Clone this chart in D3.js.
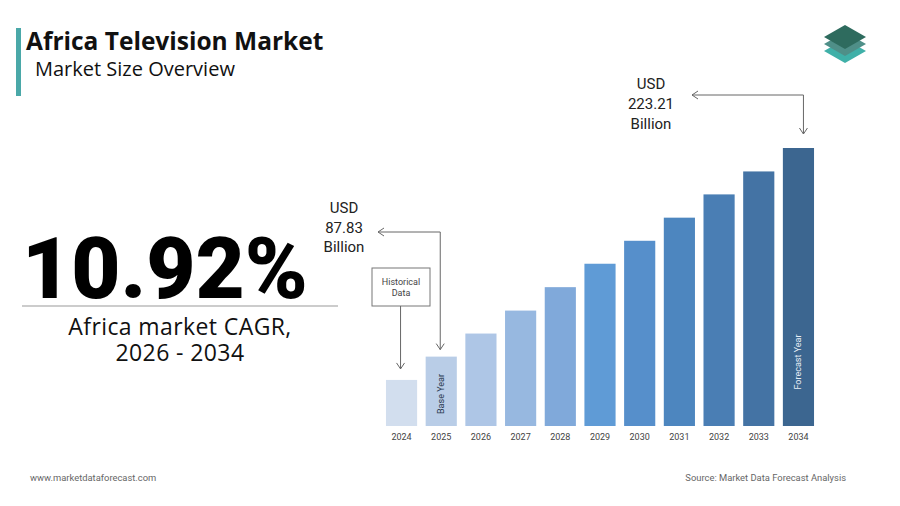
<!DOCTYPE html>
<html>
<head>
    <title>Africa Television Market</title>
    <script src="https://cdnjs.cloudflare.com/ajax/libs/d3/7.8.5/d3.min.js"></script>
    <style>
        body {
            margin: 0;
            background-color: #ffffff;
            font-family: Roboto, Arial, sans-serif;
        }
        .year {
            font-size: 9px;
            fill: #444;
        }
        .note {
            font-size: 15px;
            fill: #222;
        }
        .arrow {
            fill: none;
            stroke: #666;
            stroke-width: 1;
        }
    </style>
</head>
<body>
    <div id="chart"></div>

    <script>
        // data
        const years = ["2024", "2025", "2026", "2027", "2028", "2029", "2030", "2031", "2032", "2033", "2034"];
        const values = [72.7, 87.83, 102.8, 117.7, 132.9, 148.1, 163.0, 178.0, 193.1, 208.0, 223.21];
        const colors = ["#d2deee", "#b9cde7", "#aec6e6", "#97b8e0", "#80a9da", "#5f9bd6",
                        "#568fcb", "#4d86bf", "#4a7eb4", "#4473a4", "#3c6690"];
        const barNotes = { "2025": "Base Year", "2034": "Forecast Year" };

        const width = 900, height = 506;

        const svg = d3.select("#chart").append("svg")
            .attr("width", width)
            .attr("height", height);

        // header
        svg.append("rect")
            .attr("x", 16).attr("y", 28)
            .attr("width", 5).attr("height", 68)
            .attr("fill", "#4aa8a8");

        svg.append("text")
            .attr("x", 26).attr("y", 50)
            .attr("font-family", "'Open Sans', sans-serif")
            .attr("font-weight", 700)
            .attr("font-size", 24.5)
            .attr("fill", "#111")
            .text("Africa Television Market");

        svg.append("text")
            .attr("x", 35).attr("y", 76)
            .attr("font-family", "'Open Sans', sans-serif")
            .attr("font-size", 20)
            .attr("fill", "#111")
            .text("Market Size Overview");

        // logo
        const logo = svg.append("g").attr("transform", "translate(845,45)");
        [["#3fb0a8", 14], ["#4f8f88", 7], ["#2e6b5e", 0]].forEach(([c, dy]) => {
            logo.append("path")
                .attr("d", `M-21,${dy - 8} L0,${dy - 20} L21,${dy - 8} L0,${dy + 4} Z`)
                .attr("fill", c);
        });

        // cagr block
        svg.append("text")
            .attr("x", 22).attr("y", 298)
            .attr("font-family", "Roboto, sans-serif")
            .attr("font-weight", 900)
            .attr("font-size", 85)
            .attr("fill", "#000")
            .text("10.92%");

        svg.append("line")
            .attr("x1", 22).attr("x2", 338)
            .attr("y1", 306).attr("y2", 306)
            .attr("stroke", "#999");

        svg.append("text")
            .attr("x", 180).attr("y", 335)
            .attr("text-anchor", "middle")
            .attr("font-family", "'Open Sans', sans-serif")
            .attr("font-size", 23)
            .attr("letter-spacing", 0.4)
            .attr("fill", "#111")
            .text("Africa market CAGR,");

        svg.append("text")
            .attr("x", 180).attr("y", 361)
            .attr("text-anchor", "middle")
            .attr("font-family", "'Open Sans', sans-serif")
            .attr("font-size", 23)
            .attr("letter-spacing", 0.4)
            .attr("fill", "#111")
            .text("2026 - 2034");

        // bars
        const x = d3.scaleBand()
            .domain(years)
            .range([382, 818])
            .paddingInner(0.215)
            .paddingOuter(0.1);

        const y = d3.scaleLinear()
            .domain([42.8, 223.21])
            .range([426, 148]);

        svg.selectAll(".bar")
            .data(years)
            .enter().append("rect")
            .attr("class", "bar")
            .attr("x", d => x(d))
            .attr("width", x.bandwidth())
            .attr("y", (d, i) => y(values[i]))
            .attr("height", (d, i) => y.range()[0] - y(values[i]))
            .attr("fill", (d, i) => colors[i]);

        svg.selectAll(".year")
            .data(years)
            .enter().append("text")
            .attr("class", "year")
            .attr("x", d => x(d) + x.bandwidth() / 2)
            .attr("y", 440)
            .attr("text-anchor", "middle")
            .text(d => d);

        Object.keys(barNotes).forEach(k => {
            const cx = x(k) + x.bandwidth() / 2 + 3;
            const cy = k === "2025" ? 394 : 362;
            svg.append("text")
                .attr("transform", `translate(${cx},${cy}) rotate(-90)`)
                .attr("text-anchor", "middle")
                .attr("font-size", 9)
                .attr("fill", k === "2025" ? "#2a3a50" : "#e8eef6")
                .text(barNotes[k]);
        });

        // annotations
        const i25 = years.indexOf("2025"), i34 = years.indexOf("2034"), i24 = years.indexOf("2024");
        const ax25 = x("2025") + x.bandwidth() / 2 - 1;
        const ax34 = x("2034") + x.bandwidth() / 2 + 5;
        const ax24 = x("2024") + x.bandwidth() / 2 - 1;

        function arrowHead(px, py, dir) {
            const p = dir === "left" ? `M${px + 6},${py - 4} L${px},${py} L${px + 6},${py + 4}`
                                      : `M${px - 4},${py - 6} L${px},${py} L${px + 4},${py - 6}`;
            svg.append("path").attr("class", "arrow").attr("d", p);
        }

        // 87.83
        const tip25 = y(values[i25]) - 7;
        svg.append("path").attr("class", "arrow")
            .attr("d", `M378,232 H${ax25} V${tip25}`);
        arrowHead(378, 232, "left");
        arrowHead(ax25, tip25, "down");

        ["USD", "87.83", "Billion"].forEach((t, j) => {
            svg.append("text").attr("class", "note")
                .attr("x", 344).attr("y", 213 + j * 19.5)
                .attr("text-anchor", "middle")
                .text(t);
        });

        // 223.21
        const tip34 = y(values[i34]) - 14;
        svg.append("path").attr("class", "arrow")
            .attr("d", `M692,95 H${ax34} V${tip34}`);
        arrowHead(692, 95, "left");
        arrowHead(ax34, tip34, "down");

        ["USD", "223.21", "Billion"].forEach((t, j) => {
            svg.append("text").attr("class", "note")
                .attr("x", 651).attr("y", 89 + j * 20)
                .attr("text-anchor", "middle")
                .text(t);
        });

        // historical data box
        svg.append("rect")
            .attr("x", 372).attr("y", 268)
            .attr("width", 58).attr("height", 38)
            .attr("fill", "none").attr("stroke", "#777");
        ["Historical", "Data"].forEach((t, j) => {
            svg.append("text")
                .attr("x", 401).attr("y", 285 + j * 11)
                .attr("text-anchor", "middle")
                .attr("font-size", 9)
                .attr("fill", "#444")
                .text(t);
        });
        const tip24 = y(values[i24]) - 11;
        svg.append("path").attr("class", "arrow")
            .attr("d", `M${ax24},306 V${tip24}`);
        arrowHead(ax24, tip24, "down");

        // footer
        svg.append("text")
            .attr("x", 30).attr("y", 481)
            .attr("font-size", 9.4)
            .attr("fill", "#666")
            .text("www.marketdataforecast.com");

        svg.append("text")
            .attr("x", 846).attr("y", 481)
            .attr("text-anchor", "end")
            .attr("font-size", 9.4)
            .attr("fill", "#666")
            .text("Source: Market Data Forecast Analysis");
    </script>
</body>
</html>
